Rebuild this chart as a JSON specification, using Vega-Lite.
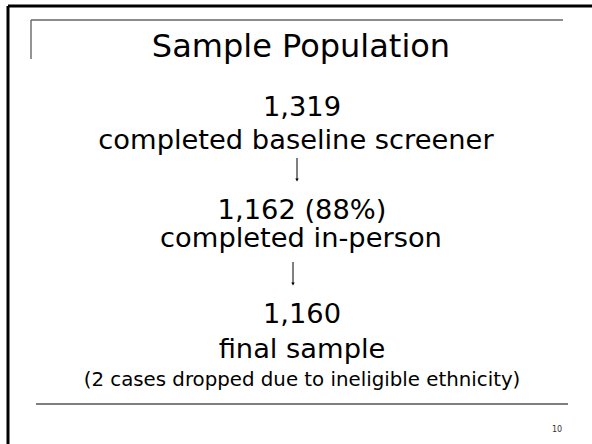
{
  "$schema": "https://vega.github.io/schema/vega-lite/v6.json",
  "width": 592,
  "height": 444,
  "padding": 0,
  "autosize": {"type": "none"},
  "background": "white",
  "config": {"view": {"stroke": null}},
  "datasets": {
    "texts": [
      {"text": "Sample Population", "role": "title", "px": 301, "py": 57},
      {"text": "1,319", "role": "body", "px": 302, "py": 116},
      {"text": "completed baseline screener", "role": "body", "px": 296, "py": 149},
      {"text": "1,162 (88%)", "role": "body", "px": 302, "py": 219},
      {"text": "completed in-person", "role": "body", "px": 301, "py": 247},
      {"text": "1,160", "role": "body", "px": 302, "py": 323},
      {"text": "final sample", "role": "body", "px": 302, "py": 358},
      {"text": "(2 cases dropped due to ineligible ethnicity)", "role": "note", "px": 302, "py": 386},
      {"text": "10", "role": "page", "px": 557, "py": 432}
    ],
    "frame": [
      {"kind": "outer", "x1": 8, "x2": 600, "y1": 6, "y2": 6},
      {"kind": "outer", "x1": 8, "x2": 8, "y1": 6, "y2": 450},
      {"kind": "gray", "x1": 31, "x2": 563, "y1": 20, "y2": 20},
      {"kind": "gray", "x1": 31, "x2": 31, "y1": 20, "y2": 59},
      {"kind": "bottom", "x1": 36, "x2": 568, "y1": 404, "y2": 404},
      {"kind": "arrow", "x1": 297, "x2": 297, "y1": 158, "y2": 180},
      {"kind": "arrow", "x1": 293, "x2": 293, "y1": 262, "y2": 284}
    ]
  },
  "layer": [
    {
      "data": {"name": "frame"},
      "transform": [{"filter": "datum.kind === 'outer'"}],
      "mark": {"type": "rule", "color": "black", "strokeWidth": 3},
      "encoding": {
        "x": {"field": "x1", "type": "quantitative", "scale": {"domain": [0, 592], "range": [0, 592], "nice": false, "zero": false}, "axis": null},
        "x2": {"field": "x2"},
        "y": {"field": "y1", "type": "quantitative", "scale": {"domain": [0, 444], "range": [0, 444], "nice": false, "zero": false}, "axis": null},
        "y2": {"field": "y2"}
      }
    },
    {
      "data": {"name": "frame"},
      "transform": [{"filter": "datum.kind === 'gray'"}],
      "mark": {"type": "rule", "color": "#666666", "strokeWidth": 1.4},
      "encoding": {
        "x": {"field": "x1", "type": "quantitative"},
        "x2": {"field": "x2"},
        "y": {"field": "y1", "type": "quantitative"},
        "y2": {"field": "y2"}
      }
    },
    {
      "data": {"name": "frame"},
      "transform": [{"filter": "datum.kind === 'bottom'"}],
      "mark": {"type": "rule", "color": "black", "strokeWidth": 1.2},
      "encoding": {
        "x": {"field": "x1", "type": "quantitative"},
        "x2": {"field": "x2"},
        "y": {"field": "y1", "type": "quantitative"},
        "y2": {"field": "y2"}
      }
    },
    {
      "data": {"name": "frame"},
      "transform": [{"filter": "datum.kind === 'arrow'"}],
      "mark": {"type": "rule", "color": "black", "strokeWidth": 1},
      "encoding": {
        "x": {"field": "x1", "type": "quantitative"},
        "x2": {"field": "x2"},
        "y": {"field": "y1", "type": "quantitative"},
        "y2": {"field": "y2"}
      }
    },
    {
      "data": {"name": "frame"},
      "transform": [{"filter": "datum.kind === 'arrow'"}],
      "mark": {"type": "point", "shape": "triangle-down", "filled": true, "color": "black", "size": 12, "opacity": 1},
      "encoding": {
        "x": {"field": "x2", "type": "quantitative"},
        "y": {"field": "y2", "type": "quantitative"}
      }
    },
    {
      "data": {"name": "texts"},
      "transform": [{"filter": "datum.role === 'title'"}],
      "mark": {"type": "text", "font": "DejaVu Sans", "fontSize": 32, "align": "center", "baseline": "alphabetic", "color": "black"},
      "encoding": {
        "x": {"field": "px", "type": "quantitative"},
        "y": {"field": "py", "type": "quantitative"},
        "text": {"field": "text"}
      }
    },
    {
      "data": {"name": "texts"},
      "transform": [{"filter": "datum.role === 'body'"}],
      "mark": {"type": "text", "font": "DejaVu Sans", "fontSize": 27.3, "align": "center", "baseline": "alphabetic", "color": "black"},
      "encoding": {
        "x": {"field": "px", "type": "quantitative"},
        "y": {"field": "py", "type": "quantitative"},
        "text": {"field": "text"}
      }
    },
    {
      "data": {"name": "texts"},
      "transform": [{"filter": "datum.role === 'note'"}],
      "mark": {"type": "text", "font": "DejaVu Sans", "fontSize": 19.8, "align": "center", "baseline": "alphabetic", "color": "black"},
      "encoding": {
        "x": {"field": "px", "type": "quantitative"},
        "y": {"field": "py", "type": "quantitative"},
        "text": {"field": "text"}
      }
    },
    {
      "data": {"name": "texts"},
      "transform": [{"filter": "datum.role === 'page'"}],
      "mark": {"type": "text", "font": "DejaVu Sans", "fontSize": 8, "align": "center", "baseline": "alphabetic", "color": "#333333"},
      "encoding": {
        "x": {"field": "px", "type": "quantitative"},
        "y": {"field": "py", "type": "quantitative"},
        "text": {"field": "text"}
      }
    }
  ]
}
